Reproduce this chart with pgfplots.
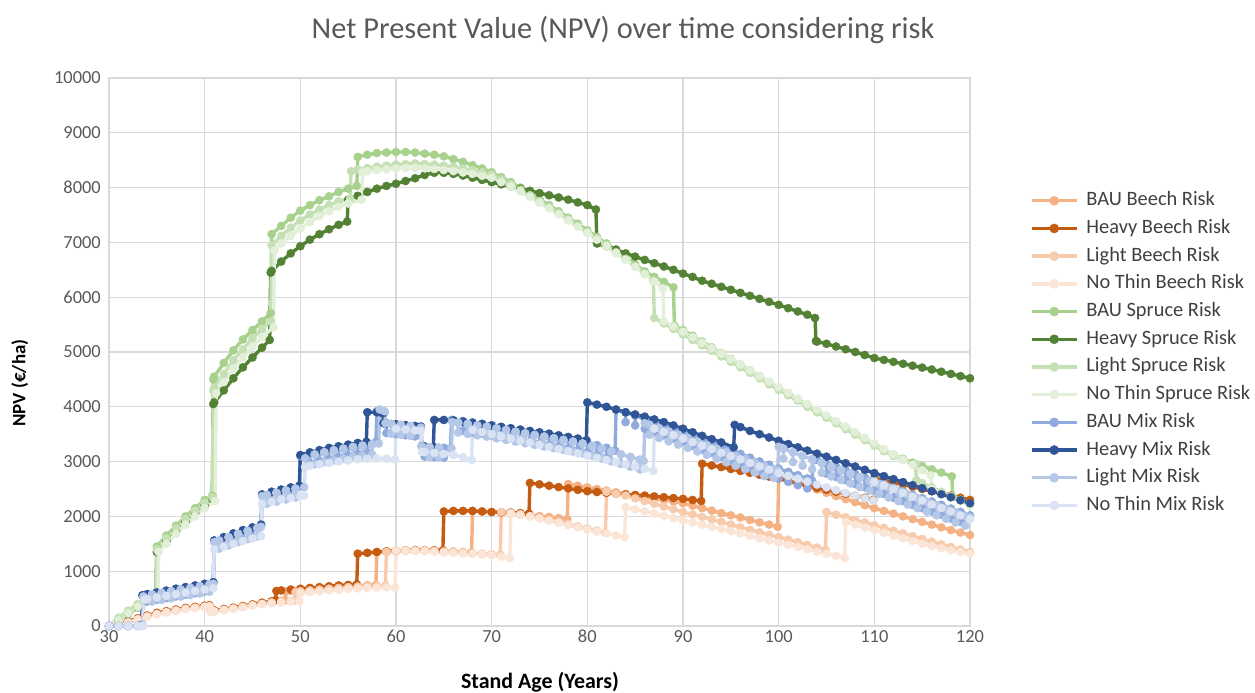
\documentclass[border=0pt]{standalone}
\usepackage{fontspec}
\setmainfont{Carlito}
\usepackage{pgfplots}
\pgfplotsset{compat=1.18}

\definecolor{bauB}{HTML}{F4B183}
\definecolor{heavyB}{HTML}{C55A11}
\definecolor{lightB}{HTML}{F8CBAD}
\definecolor{nothinB}{HTML}{FBE5D6}
\definecolor{bauS}{HTML}{A9D18E}
\definecolor{heavyS}{HTML}{548235}
\definecolor{lightS}{HTML}{C5E0B4}
\definecolor{nothinS}{HTML}{E2F0D9}
\definecolor{bauM}{HTML}{8FAADC}
\definecolor{heavyM}{HTML}{2F5597}
\definecolor{lightM}{HTML}{B4C7E7}
\definecolor{nothinM}{HTML}{DAE3F3}
\definecolor{gridgray}{HTML}{D9D9D9}
\definecolor{tickgray}{HTML}{595959}
\definecolor{legendgray}{HTML}{404040}

\begin{document}
\begin{tikzpicture}
\path[use as bounding box] (0bp,0bp) rectangle (1255bp,693bp);
\begin{axis}[
  at={(109bp,67bp)}, anchor=south west,
  width=861bp, height=548bp, scale only axis,
  xmin=30, xmax=120, ymin=0, ymax=10000,
  xtick={30,40,...,120}, ytick={0,1000,...,10000},
  scaled x ticks=false, scaled y ticks=false,
  clip=false,
  grid=major,
  major grid style={gridgray, line width=1.2bp},
  axis line style={gridgray, line width=1.2bp},
  tick style={draw=none},
  /pgf/number format/.cd, 1000 sep={}, fixed, assume math mode=true, /pgfplots/.cd,
  ticklabel style={font=\fontsize{18.5}{21}\selectfont, text=tickgray},
  xticklabel style={anchor=north, inner sep=0pt, yshift=-4bp},
  yticklabel style={anchor=east, inner sep=0pt, xshift=-8bp},
  title={Net Present Value (NPV) over time considering risk},
  title style={at={(axis description cs:0.597,1.0775)}, anchor=center,
    font=\fontsize{30.5}{36}\selectfont, text=tickgray},
  xlabel={Stand Age (Years)},
  xlabel style={at={(axis description cs:0.5006,-0.1035)}, anchor=center,
    font=\bfseries\fontsize{22}{26}\selectfont},
  ylabel={NPV (€/ha)},
  ylabel style={at={(axis description cs:-0.1035,0.4434)}, anchor=center,
    font=\bfseries\fontsize{19}{23}\selectfont},
  every axis plot/.append style={line width=3.4bp, mark=*, mark size=4.1bp,
    line join=round, mark options={solid, line width=0.4bp}},
  legend image code/.code={\draw[mark repeat=2,mark phase=2]
    plot coordinates {(0bp,0bp) (22.5bp,0bp) (45bp,0bp)};},
  legend image post style={mark size=4.6bp},
  legend cell align=left,
  legend style={at={(1.0697,0.7924)}, anchor=north west, draw=none, fill=none,
    inner sep=0pt, outer sep=0pt, row sep=9.7bp,
    font=\fontsize{20.5}{24}\selectfont, text=legendgray,
    nodes={inner sep=0pt, text height=14bp, text depth=4bp},
    /tikz/every odd column/.append style={column sep=8bp}},
]

% ---------------- Beech ----------------
\addplot[color=bauB] coordinates {
(30,0)(31,25)(32,75)(33,130)(34,180)(35,230)(36,265)(37,295)(38,325)(39,345)(40,365)(40.5,375)(40.6,270)(41,275)(42,300)(43,325)(44,355)(45,385)(46,415)(47,440)(48,460)(48.4,470)(48.5,630)(49,645)(50,660)(51,675)(52,690)(53,705)(54,720)(55,730)(56,740)(57,745)(57.9,750)(58,1350)(59,1365)(60,1380)(61,1385)(62,1390)(63,1385)(64,1380)(65,1370)(66,1360)(67,1350)(67.9,1340)(68,2100)(69,2090)(70,2080)(71,2065)(72,2050)(73,2035)(74,2020)(75,2005)(76,1990)(77,1970)(77.9,1950)(78,2590)(79,2560)(80,2530)(81,2500)(82,2470)(83,2440)(84,2410)(85,2380)(86,2350)(87,2325)(88,2300)(89,2270)(90,2240)(91,2195)(92,2150)(93,2105)(94,2060)(95,2020)(96,1980)(97,1935)(98,1890)(99,1850)(99.9,1810)(100,2720)(101,2660)(102,2600)(103,2545)(104,2490)(105,2430)(106,2370)(107,2315)(108,2260)(109,2205)(110,2150)(111,2100)(112,2050)(113,2000)(114,1950)(115,1900)(116,1850)(117,1800)(118,1750)(119,1705)(120,1660)
};
\addlegendentry{BAU Beech Risk}

\addplot[color=heavyB] coordinates {
(30,0)(31,30)(32,80)(33,140)(34,190)(35,240)(36,270)(37,300)(38,330)(39,350)(40,370)(40.5,380)(40.6,280)(41,285)(42,310)(43,335)(44,365)(45,395)(46,425)(47,450)(47.4,470)(47.5,640)(48,650)(49,665)(50,680)(51,695)(52,710)(53,725)(54,740)(55,750)(55.9,760)(56,1320)(57,1335)(58,1350)(59,1360)(60,1370)(61,1375)(62,1380)(63,1380)(64,1380)(64.9,1380)(65,2090)(66,2100)(67,2100)(68,2100)(69,2090)(70,2080)(71,2075)(72,2070)(73,2060)(73.9,2050)(74,2610)(75,2585)(76,2560)(77,2535)(78,2510)(79,2485)(80,2460)(81,2445)(82,2430)(83,2415)(84,2400)(85,2390)(86,2380)(87,2365)(88,2350)(89,2335)(90,2320)(91,2300)(91.9,2280)(92,2960)(93,2930)(94,2900)(95,2865)(96,2830)(97,2795)(98,2760)(99,2725)(100,2690)(101,2645)(102,2600)(103,2560)(104,2520)(105,2485)(106,2450)(107,2415)(108,2380)(109,2340)(109.9,2300)(110,2700)(111,2660)(112,2620)(113,2580)(114,2540)(115,2500)(116,2460)(117,2420)(118,2380)(119,2340)(120,2300)
};
\addlegendentry{Heavy Beech Risk}

\addplot[color=lightB] coordinates {
(30,0)(31,20)(32,70)(33,125)(34,175)(35,220)(36,255)(37,285)(38,315)(39,335)(40,355)(40.5,365)(40.6,265)(41,270)(42,295)(43,320)(44,350)(45,380)(46,405)(47,430)(48,445)(49,460)(49.4,465)(49.5,620)(50,635)(51,650)(52,665)(53,680)(54,695)(55,710)(56,720)(57,730)(58,735)(58.9,740)(59,1350)(60,1360)(61,1370)(62,1375)(63,1380)(64,1370)(65,1360)(66,1350)(67,1340)(68,1330)(69,1320)(70,1310)(70.9,1300)(71,2080)(72,2060)(73,2040)(74,2005)(75,1970)(76,1935)(77,1900)(78,1860)(79,1820)(80,1780)(81,1740)(81.9,1700)(82,2450)(83,2415)(84,2380)(85,2330)(86,2280)(87,2230)(88,2180)(89,2130)(90,2080)(91,2035)(92,1990)(93,1945)(94,1900)(95,1850)(96,1800)(97,1755)(98,1710)(99,1665)(100,1620)(101,1575)(102,1530)(103,1480)(104,1430)(104.9,1390)(105,2080)(106,2030)(107,1985)(108,1935)(109,1890)(110,1840)(111,1790)(112,1740)(113,1690)(114,1640)(115,1590)(116,1540)(117,1490)(118,1440)(119,1395)(120,1350)
};
\addlegendentry{Light Beech Risk}

\addplot[color=nothinB] coordinates {
(30,0)(31,15)(32,60)(33,115)(34,165)(35,210)(36,245)(37,275)(38,305)(39,325)(40,345)(40.5,355)(40.6,260)(41,265)(42,290)(43,315)(44,340)(45,370)(46,395)(47,415)(48,430)(49,445)(49.9,455)(50,600)(51,615)(52,630)(53,645)(54,660)(55,675)(56,685)(57,695)(58,700)(59,705)(59.9,700)(60,1380)(61,1375)(62,1370)(63,1365)(64,1355)(65,1345)(66,1335)(67,1325)(68,1315)(69,1305)(70,1290)(71,1265)(71.9,1240)(72,2050)(73,2025)(74,2000)(75,1960)(76,1920)(77,1880)(78,1840)(79,1800)(80,1760)(81,1725)(82,1690)(83,1655)(83.9,1620)(84,2170)(85,2130)(86,2090)(87,2050)(88,2010)(89,1970)(90,1930)(91,1890)(92,1850)(93,1810)(94,1770)(95,1730)(96,1690)(97,1645)(98,1600)(99,1560)(100,1520)(101,1480)(102,1440)(103,1400)(104,1360)(105,1320)(106,1280)(106.9,1240)(107,1900)(108,1850)(109,1800)(110,1750)(111,1700)(112,1650)(113,1600)(114,1550)(115,1500)(116,1460)(117,1420)(118,1380)(119,1350)(120,1320)
};
\addlegendentry{No Thin Beech Risk}

% ---------------- Spruce ----------------
\addplot[color=bauS] coordinates {
(30,0)(31,120)(32,250)(33,380)(34,500)(34.9,600)(35,1450)(36,1650)(37,1830)(38,2000)(39,2150)(40,2300)(40.8,2380)(40.9,4500)(41,4550)(42,4800)(43,5030)(44,5230)(45,5400)(46,5560)(46.9,5710)(47,7150)(48,7300)(49,7450)(50,7580)(51,7680)(52,7770)(53,7840)(54,7920)(55,7980)(55.9,8030)(56,8560)(57,8600)(58,8630)(59,8640)(60,8650)(61,8650)(62,8640)(63,8620)(64,8600)(65,8570)(66,8520)(67,8470)(68,8410)(69,8350)(70,8280)(71,8190)(72,8100)(73,8000)(74,7900)(75,7790)(76,7680)(77,7570)(78,7450)(79,7340)(80,7220)(81,7100)(82,6980)(83,6860)(84,6730)(85,6600)(86,6470)(87,6370)(88,6280)(89,6180)(89.1,5480)(90,5400)(91,5295)(92,5190)(93,5085)(94,4980)(95,4875)(96,4770)(97,4665)(98,4560)(99,4450)(100,4340)(101,4235)(102,4130)(103,4030)(104,3930)(105,3825)(106,3720)(107,3620)(108,3520)(109,3415)(110,3310)(111,3220)(112,3130)(113,3050)(114,2980)(115,2920)(116,2860)(117,2800)(118.1,2730)(118.2,2360)(119,2300)(120,2240)
};
\addlegendentry{BAU Spruce Risk}

\addplot[color=heavyS] coordinates {
(30,0)(31,100)(32,220)(33,340)(34,450)(34.9,560)(35,1350)(36,1550)(37,1730)(38,1900)(39,2060)(40,2200)(40.8,2330)(40.9,4050)(41,4080)(42,4300)(43,4520)(44,4720)(45,4900)(46,5080)(46.8,5220)(46.9,6450)(47,6480)(48,6650)(49,6800)(50,6930)(51,7050)(52,7150)(53,7240)(54,7320)(54.9,7380)(55,7780)(56,7850)(57,7920)(58,7980)(59,8030)(60,8070)(61,8120)(62,8170)(63,8230)(64,8270)(65,8270)(66,8250)(67,8220)(68,8180)(69,8140)(70,8100)(71,8060)(72,8020)(73,7980)(74,7940)(75,7900)(76,7860)(77,7820)(78,7780)(79,7730)(80,7680)(80.9,7600)(81,6980)(82,6930)(83,6870)(84,6800)(85,6740)(86,6680)(87,6620)(88,6560)(89,6500)(90,6430)(91,6370)(92,6300)(93,6245)(94,6190)(95,6135)(96,6080)(97,6025)(98,5970)(99,5915)(100,5860)(101,5800)(102,5740)(103,5680)(103.8,5620)(103.9,5200)(104,5190)(105,5150)(106,5100)(107,5050)(108,5000)(109,4945)(110,4890)(111,4855)(112,4820)(113,4785)(114,4750)(115,4715)(116,4680)(117,4640)(118,4600)(119,4560)(120,4520)
};
\addlegendentry{Heavy Spruce Risk}

\addplot[color=lightS] coordinates {
(30,0)(31,150)(32,280)(33,400)(34,520)(34.9,620)(35,1400)(36,1600)(37,1780)(38,1950)(39,2100)(40,2250)(40.8,2350)(40.9,4300)(41,4350)(42,4600)(43,4850)(44,5050)(45,5250)(46,5420)(46.9,5560)(47,6950)(48,7120)(49,7270)(50,7400)(51,7510)(52,7600)(53,7680)(54,7750)(55.2,7800)(55.3,8300)(56,8330)(57,8355)(58,8380)(59,8400)(60,8420)(61,8430)(62,8440)(63,8430)(64,8420)(65,8400)(66,8380)(67,8350)(68,8320)(69,8280)(70,8240)(71,8150)(72,8060)(73,7960)(74,7860)(75,7750)(76,7640)(77,7530)(78,7420)(79,7300)(80,7190)(81,7070)(82,6950)(83,6820)(84,6700)(85,6560)(86,6430)(86.9,6300)(87,5620)(88,5520)(89,5420)(90,5320)(91,5220)(92,5120)(93,5020)(94,4920)(95,4820)(96,4720)(97,4620)(98,4520)(99,4410)(100,4310)(101,4210)(102,4110)(103,4000)(104,3900)(105,3800)(106,3700)(107,3590)(108,3490)(109,3390)(110,3290)(111,3190)(112,3100)(113,3030)(114.3,2960)(114.4,2660)(115,2610)(116,2530)(117,2450)(118,2370)(119,2300)(120,2230)
};
\addlegendentry{Light Spruce Risk}

\addplot[color=nothinS] coordinates {
(30,0)(31,100)(32,230)(33,350)(34,460)(35.1,560)(35.2,1350)(36,1500)(37,1680)(38,1850)(39,2000)(40,2150)(41.1,2280)(41.2,4250)(42,4450)(43,4700)(44,4900)(45,5100)(46,5270)(47.2,5450)(47.3,6850)(48,6980)(49,7120)(50,7250)(51,7370)(52,7480)(53,7570)(54,7650)(55,7710)(56.4,7780)(56.5,8280)(57,8300)(58,8320)(59,8335)(60,8350)(61,8355)(62,8360)(63,8350)(64,8340)(65,8320)(66,8300)(67,8275)(68,8250)(69,8215)(70,8180)(71,8100)(72,8020)(73,7925)(74,7830)(75,7725)(76,7620)(77,7510)(78,7400)(79,7285)(80,7170)(81,7050)(82,6930)(83,6805)(84,6680)(85,6550)(86,6420)(87,6285)(87.9,6160)(88,5560)(89,5465)(90,5370)(91,5270)(92,5170)(93,5070)(94,4970)(95,4870)(96,4770)(97,4665)(98,4560)(99,4460)(100,4360)(101,4255)(102,4150)(103,4050)(104,3950)(105,3845)(106,3740)(107,3640)(108,3540)(109,3435)(110,3330)(111,3230)(112,3130)(113,3035)(114,2940)(115,2840)(115.9,2750)(116,2500)(117,2420)(118,2350)(119,2275)(120,2200)
};
\addlegendentry{No Thin Spruce Risk}

% ---------------- Mixed stand ----------------
\addplot[color=bauM] coordinates {
(30,0)(31,0)(32,0)(33,0)(33.4,20)(33.5,560)
(34,580)(34,450)(34,580)(35,610)(35,480)(35,610)(36,640)(36,510)(36,640)(37,670)(37,540)(37,670)(38,700)(38,570)(38,700)(39,730)(39,600)(39,730)(40,760)(40,630)(40,760)(40.9,790)
(41,1560)(42,1620)(42,1470)(42,1620)(43,1680)(43,1530)(43,1680)(44,1740)(44,1590)(44,1740)(45,1790)(45,1640)(45,1790)(45.9,1840)
(46,2400)(47,2440)(47,2280)(47,2440)(48,2480)(48,2320)(48,2480)(49,2520)(49,2360)(49,2520)(49.9,2550)
(50,3100)(51,3150)(51,2970)(51,3150)(52,3190)(52,3010)(52,3190)(53,3230)(53,3050)(53,3230)(54,3260)(54,3080)(54,3260)(55,3290)(55,3110)(55,3290)(56,3320)(56,3140)(56,3320)(57,3340)(57,3160)(57,3340)(57.9,3360)
(58,3920)(58.8,3900)(58.9,3700)(59,3700)(59,3520)(59,3700)(60,3680)(60,3500)(60,3680)(61,3660)(61,3480)(61,3660)(62,3640)(62,3460)(62,3640)(62.6,3620)
(62.7,3280)(63,3270)(63,3090)(63,3270)(64,3260)(64,3080)(64,3260)(65,3250)(65,3070)(65,3250)(65.7,3240)
(65.8,3760)(66,3760)(67,3740)(67,3560)(67,3740)(68,3710)(68,3530)(68,3710)(69,3690)(69,3510)(69,3690)(70,3660)(70,3480)(70,3660)(71,3630)(71,3450)(71,3630)(72,3600)(72,3420)(72,3600)(73,3570)(73,3390)(73,3570)(74,3540)(74,3360)(74,3540)(75,3510)(75,3330)(75,3510)(76,3480)(76,3300)(76,3480)(77,3450)(77,3270)(77,3450)(78,3420)(78,3240)(78,3420)(79,3390)(79,3210)(79,3390)(80,3350)(80,3170)(80,3350)(81,3300)(81,3120)(81,3300)(82,3250)(82,3070)(82,3250)(82.9,3200)
(83,3950)(84,3900)(84,3720)(84,3900)(85,3840)(85,3660)(85,3840)(86,3780)(86,3600)(86,3780)(87,3720)(87,3540)(87,3720)(88,3660)(88,3480)(88,3660)(89,3600)(89,3420)(89,3600)(90,3540)(90,3360)(90,3540)(91,3470)(91,3290)(91,3470)(92,3400)(92,3220)(92,3400)(93,3340)(93,3160)(93,3340)(94,3270)(94,3090)(94,3270)(95,3200)(95,3020)(95,3200)(96,3140)(96,2960)(96,3140)(97,3070)(97,2890)(97,3070)(98,3000)(98,2820)(98,3000)(99,2940)(99,2760)(99,2940)(100,2870)(100,2690)(100,2870)(101,2810)(101,2630)(101,2810)(102,2750)(102,2570)(102,2750)(103,2690)(103,2510)(103,2690)(103.5,2650)
(103.6,3050)(104,3030)(105,2960)(105,2780)(105,2960)(106,2900)(106,2720)(106,2900)(107,2840)(107,2660)(107,2840)(108,2770)(108,2590)(108,2770)(109,2710)(109,2530)(109,2710)(110,2650)(110,2470)(110,2650)(111,2590)(111,2410)(111,2590)(112,2520)(112,2340)(112,2520)(113,2460)(113,2280)(113,2460)(114,2390)(114,2210)(114,2390)(115,2330)(115,2150)(115,2330)(116,2270)(116,2090)(116,2270)(117,2210)(117,2030)(117,2210)(118,2140)(118,1960)(118,2140)(119,2080)(119,1900)(119,2080)(120,2020)
};
\addlegendentry{BAU Mix Risk}

\addplot[color=heavyM] coordinates {
(30,0)(31,0)(32,0)(33,0)(33.4,20)(33.5,560)(34,580)(35,610)(36,645)(37,680)(38,710)(39,740)(40,770)(40.9,800)(41,1560)(42,1620)(43,1690)(44,1750)(45,1800)(45.9,1850)(46,2400)(47,2450)(48,2490)(49,2530)(49.9,2560)(50,3120)(51,3170)(52,3210)(53,3250)(54,3280)(55,3310)(56,3340)(56.9,3360)(57,3900)(58,3900)(58.6,3880)(58.7,3700)(59,3695)(60,3680)(61,3665)(62,3650)(62.6,3640)(62.7,3280)(63,3275)(63.9,3270)(64,3760)(65,3760)(66,3750)(67,3730)(68,3710)(69,3685)(70,3660)(71,3635)(72,3610)(73,3585)(74,3560)(75,3535)(76,3510)(77,3480)(78,3450)(79,3420)(79.9,3390)(80,4080)(81,4040)(82,4000)(83,3950)(84,3900)(85,3860)(86,3820)(87,3770)(88,3720)(89,3660)(90,3600)(91,3535)(92,3470)(93,3410)(94,3350)(95.3,3260)(95.4,3670)(96,3630)(97,3560)(98,3500)(99,3440)(100,3380)(101,3320)(102,3260)(103,3200)(104,3145)(105,3090)(106,3030)(107,2970)(108,2910)(109,2850)(110,2790)(111,2735)(112,2680)(113,2625)(114,2570)(115,2515)(116,2460)(117,2405)(118,2350)(119,2295)(120,2240)
};
\addlegendentry{Heavy Mix Risk}

\addplot[color=lightM] coordinates {
(30,0)(31,0)(32,0)(33,0)(33.5,20)(33.6,540)
(34.5,575)(34.5,445)(34.5,575)(35.5,605)(35.5,475)(35.5,605)(36.5,635)(36.5,505)(36.5,635)(37.5,665)(37.5,535)(37.5,665)(38.5,695)(38.5,565)(38.5,695)(39.5,725)(39.5,595)(39.5,725)(40.5,755)(40.5,625)(40.5,755)(40.9,770)
(41,1530)(41.5,1560)(41.5,1410)(41.5,1560)(42.5,1620)(42.5,1470)(42.5,1620)(43.5,1680)(43.5,1530)(43.5,1680)(44.5,1735)(44.5,1585)(44.5,1735)(45.5,1785)(45.5,1635)(45.5,1785)(45.9,1810)
(46,2370)(46.5,2390)(46.5,2230)(46.5,2390)(47.5,2430)(47.5,2270)(47.5,2430)(48.5,2470)(48.5,2310)(48.5,2470)(49.5,2505)(49.5,2345)(49.5,2505)(50.4,2530)
(50.5,3060)(51.5,3130)(51.5,2950)(51.5,3130)(52.5,3170)(52.5,2990)(52.5,3170)(53.5,3205)(53.5,3025)(53.5,3205)(54.5,3235)(54.5,3055)(54.5,3235)(55.5,3265)(55.5,3085)(55.5,3265)(56.5,3290)(56.5,3110)(56.5,3290)(57.5,3310)(57.5,3130)(57.5,3310)(58.2,3330)
(58.3,3950)(58.8,3920)(58.9,3700)(59.5,3690)(59.5,3510)(59.5,3690)(60.5,3670)(60.5,3490)(60.5,3670)(61.5,3650)(61.5,3470)(61.5,3650)(62.6,3620)
(62.7,3280)(63.5,3265)(63.5,3085)(63.5,3265)(64.5,3255)(64.5,3075)(64.5,3255)(65.8,3240)
(65.9,3720)(66.5,3710)(66.5,3530)(66.5,3710)(67.5,3685)(67.5,3505)(67.5,3685)(68.5,3660)(68.5,3480)(68.5,3660)(69.5,3635)(69.5,3455)(69.5,3635)(70.5,3605)(70.5,3425)(70.5,3605)(71.5,3575)(71.5,3395)(71.5,3575)(72.5,3545)(72.5,3365)(72.5,3545)(73.5,3515)(73.5,3335)(73.5,3515)(74.5,3485)(74.5,3305)(74.5,3485)(75.5,3455)(75.5,3275)(75.5,3455)(76.5,3425)(76.5,3245)(76.5,3425)(77.5,3395)(77.5,3215)(77.5,3395)(78.5,3365)(78.5,3185)(78.5,3365)(79.5,3330)(79.5,3150)(79.5,3330)(80.5,3285)(80.5,3105)(80.5,3285)(81.5,3235)(81.5,3055)(81.5,3235)(82.5,3185)(82.5,3005)(82.5,3185)(83.5,3135)(83.5,2955)(83.5,3135)(84.5,3085)(84.5,2905)(84.5,3085)(85.5,3035)(85.5,2855)(85.5,3035)(85.9,3010)
(86,3700)(86.5,3670)(86.5,3490)(86.5,3670)(87.5,3610)(87.5,3430)(87.5,3610)(88.5,3550)(88.5,3370)(88.5,3550)(89.5,3490)(89.5,3310)(89.5,3490)(90.5,3430)(90.5,3250)(90.5,3430)(91.5,3365)(91.5,3185)(91.5,3365)(92.5,3300)(92.5,3120)(92.5,3300)(93.5,3235)(93.5,3055)(93.5,3235)(94.5,3170)(94.5,2990)(94.5,3170)(95.5,3105)(95.5,2925)(95.5,3105)(96.5,3040)(96.5,2860)(96.5,3040)(97.5,2980)(97.5,2800)(97.5,2980)(98.5,2915)(98.5,2735)(98.5,2915)(99.5,2860)(99.5,2700)(99.5,2860)(99.9,2840)
(100,3270)(100.5,3235)(100.5,3055)(100.5,3235)(101.5,3170)(101.5,2990)(101.5,3170)(102.5,3105)(102.5,2925)(102.5,3105)(103.5,3040)(103.5,2860)(103.5,3040)(104.5,2975)(104.5,2795)(104.5,2975)(105.5,2910)(105.5,2730)(105.5,2910)(106.5,2845)(106.5,2665)(106.5,2845)(107.5,2780)(107.5,2600)(107.5,2780)(108.5,2715)(108.5,2535)(108.5,2715)(109.5,2650)(109.5,2470)(109.5,2650)(110.5,2590)(110.5,2410)(110.5,2590)(111.5,2525)(111.5,2345)(111.5,2525)(112.5,2460)(112.5,2280)(112.5,2460)(113.5,2395)(113.5,2215)(113.5,2395)(114.5,2330)(114.5,2150)(114.5,2330)(115.5,2265)(115.5,2085)(115.5,2265)(116.5,2200)(116.5,2020)(116.5,2200)(117.5,2135)(117.5,1955)(117.5,2135)(118.5,2070)(118.5,1890)(118.5,2070)(119.5,2010)(119.5,1830)(119.5,2010)(120,1980)
};
\addlegendentry{Light Mix Risk}

\addplot[color=nothinM] coordinates {
(30,0)(31,0)(32,0)(33,0)(33.6,0)(33.7,480)(34,490)(35,520)(36,550)(37,580)(38,610)(39,640)(40,665)(40.9,690)(41,1400)(42,1450)(43,1500)(44,1550)(45,1600)(45.9,1640)(46,2230)(47,2270)(48,2310)(49,2340)(50,2370)(50.4,2380)(50.5,2900)(51,2925)(52,2950)(53,2975)(54,3000)(55,3020)(56,3040)(57,3050)(58,3060)(59,3055)(59.9,3040)(60,3600)(61,3585)(62,3570)(62.6,3560)(62.7,3180)(63,3175)(64,3160)(65,3140)(66,3120)(67,3080)(67.9,3030)(68,3580)(69,3540)(70,3500)(71,3460)(72,3420)(73,3385)(74,3350)(75,3310)(76,3270)(77,3230)(78,3190)(79,3150)(80,3110)(81,3070)(82,3030)(83,2990)(84,2950)(85,2910)(86,2870)(86.9,2830)(87,3600)(88,3540)(89,3480)(90,3420)(91,3355)(92,3290)(93,3225)(94,3160)(95,3100)(96,3040)(97,2975)(98,2910)(99,2850)(100,2790)(101,2740)(102,2690)(103,2635)(104,2580)(105,2530)(106,2480)(107,2430)(108,2380)(109,2330)(109.9,2290)(110,2630)(111,2565)(112,2500)(113,2430)(114,2360)(115,2290)(116,2220)(117,2155)(118,2090)(119,2020)(120,1950)
};
\addlegendentry{No Thin Mix Risk}

\end{axis}
\end{tikzpicture}
\end{document}
